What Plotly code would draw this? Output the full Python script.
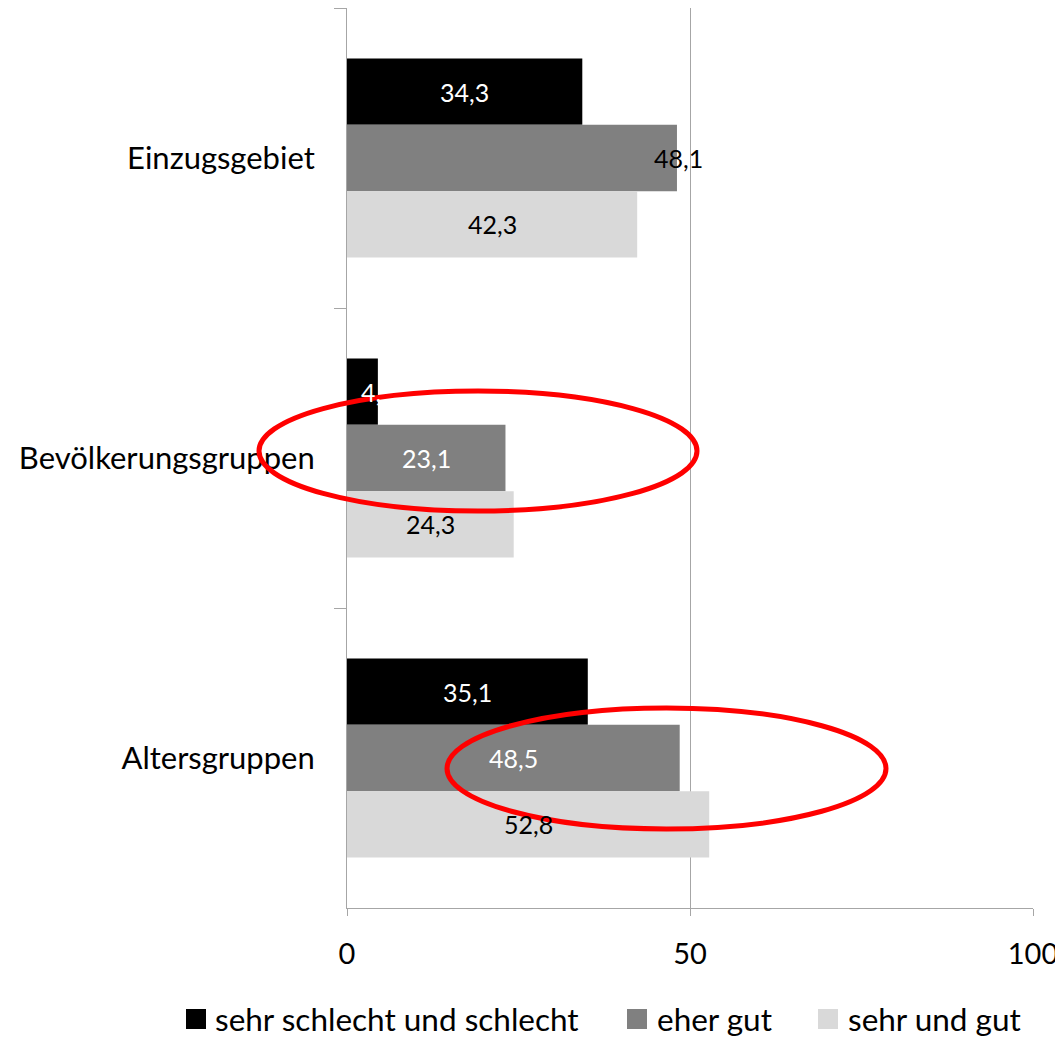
import plotly.graph_objects as go

categories = ["Einzugsgebiet", "Bevölkerungsgruppen", "Altersgruppen"]
series_names = ["sehr schlecht und schlecht", "eher gut", "sehr und gut"]
vals_schlecht = [34.3, 4.5, 35.1]
vals_eher_gut = [48.1, 23.1, 48.5]
vals_sehr_gut = [42.3, 24.3, 52.8]
label_texts_schlecht = ["34,3", "4,<span style='color:rgba(255,255,255,0)'>5</span>", "35,1"]
label_texts_eher_gut = ["48,1", "23,1", "48,5"]
label_texts_sehr_gut = ["42,3", "24,3", "52,8"]
x_ticks = [0, 50, 100]

colors = ["#000000", "#808080", "#d9d9d9"]
label_colors = [["white", "white", "white"], ["black", "white", "white"], ["black", "black", "black"]]
# label centre positions (data units): centred in bar except two Excel quirks
label_pos = [
    [v / 2 for v in vals_schlecht],
    [v / 2 for v in vals_eher_gut],
    [v / 2 for v in vals_sehr_gut],
]
label_pos[0][1] = 4.6
label_pos[1][0] = vals_eher_gut[0] + 0.15

series = [vals_schlecht, vals_eher_gut, vals_sehr_gut]
texts = [label_texts_schlecht, label_texts_eher_gut, label_texts_sehr_gut]

FONT = "Lato"
bargap = 0.337

# page has an 8px body margin: figure origin sits at page (8, 8)
OFF = 8
FIG_W, FIG_H = 1063 - OFF, 1038 - OFF
# plot-area geometry in page px, used to convert page positions to paper coords
L, R, T, B = 347, 1033, 8, 908
def px(xp):
    return (xp - L) / (R - L)
def py(yp):
    return (B - yp) / (B - T)

fig = go.Figure()
for j in range(3):
    fig.add_trace(go.Bar(
        y=categories, x=series[j], orientation="h", name=series_names[j],
        marker=dict(color=colors[j], line=dict(width=0)), showlegend=False,
    ))

w = (1 - bargap) / 3
annotations = []
for j in range(3):
    for i in range(3):
        annotations.append(dict(
            x=label_pos[j][i], y=i + (j - 1) * w, xref="x", yref="y",
            text=texts[j][i], showarrow=False,
            font=dict(family=FONT, size=25, color=label_colors[j][i]),
            xanchor="center", yanchor="middle",
        ))

shapes = [
    dict(type="circle", xref="paper", yref="paper",
         x0=px(259), x1=px(697), y0=py(511), y1=py(391),
         line=dict(color="#ff0000", width=5), layer="above"),
    dict(type="circle", xref="paper", yref="paper",
         x0=px(447), x1=px(886), y0=py(829), y1=py(708),
         line=dict(color="#ff0000", width=5), layer="above"),
]

# custom legend (square swatch + text)
legend_swatch_x = [186, 627, 818]
legend_text_x = [213, 655, 846]
for j in range(3):
    shapes.append(dict(type="rect", xref="paper", yref="paper",
                       x0=px(legend_swatch_x[j]), x1=px(legend_swatch_x[j] + 20),
                       y0=py(1029), y1=py(1009),
                       fillcolor=colors[j], line=dict(width=0)))
    annotations.append(dict(x=px(legend_text_x[j]), y=py(1019), xref="paper", yref="paper",
                            text=series_names[j], showarrow=False,
                            xanchor="left", yanchor="middle",
                            font=dict(family=FONT, size=31.5, color="black")))

fig.update_layout(
    width=FIG_W, height=FIG_H,
    margin=dict(l=L - OFF, r=1063 - R, t=T - OFF, b=1038 - B),
    paper_bgcolor="white", plot_bgcolor="white",
    barmode="group", bargap=bargap, bargroupgap=0,
    font=dict(family=FONT, size=30, color="black"),
    showlegend=False,
    annotations=annotations, shapes=shapes,
    xaxis=dict(range=[0, 100], tickvals=x_ticks, ticktext=[str(t) for t in x_ticks],
               showgrid=True, gridcolor="#a6a6a6", gridwidth=1,
               showline=True, linecolor="#a6a6a6", linewidth=1,
               ticks="outside", ticklen=7, tickcolor="#a6a6a6",
               zeroline=False, tickfont=dict(family=FONT, size=29, color="black"),
               ticklabelstandoff=13, automargin=False),
    yaxis=dict(type="category", autorange="reversed", showgrid=False,
               showline=True, linecolor="#a6a6a6", linewidth=1,
               ticks="outside", ticklen=12, tickcolor="#a6a6a6", tickson="boundaries",
               tickfont=dict(family=FONT, size=31, color="black"),
               ticklabelstandoff=25, automargin=False),
)

fig.write_html("out.html")
